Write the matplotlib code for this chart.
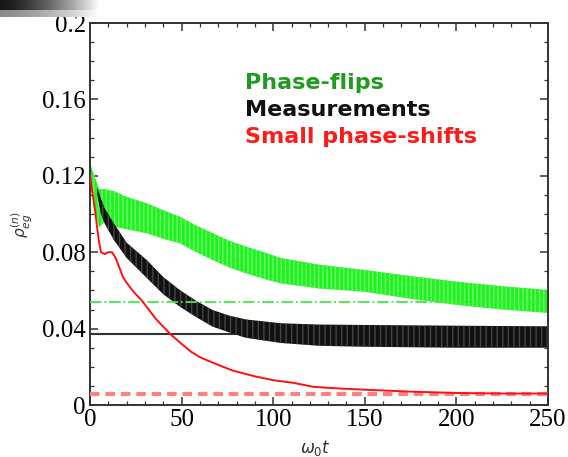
import numpy as np
import matplotlib.pyplot as plt
from matplotlib.ticker import MultipleLocator

# phase-flips band (upper / lower envelope)
t_green = [0, 2, 5, 8, 13, 20, 31, 40, 49, 58, 67, 76, 85, 95, 104, 125, 150, 175, 200, 225, 250]
green_hi = [0.127, 0.121, 0.113, 0.113, 0.112, 0.109, 0.1056, 0.102, 0.0986, 0.094, 0.090, 0.086,
            0.083, 0.080, 0.077, 0.0735, 0.0707, 0.0675, 0.0646, 0.0622, 0.0602]
green_lo = [0.120, 0.104, 0.093, 0.096, 0.0934, 0.092, 0.0899, 0.087, 0.0847, 0.080, 0.0759, 0.072,
            0.069, 0.066, 0.0637, 0.061, 0.0593, 0.0556, 0.0524, 0.050, 0.0482]

# measurements band
t_black = [4, 6, 8, 13, 20, 31, 40, 49, 58, 67, 76, 85, 104, 125, 150, 200, 250]
black_hi = [0.114, 0.108, 0.103, 0.0951, 0.085, 0.0759, 0.067, 0.0602, 0.0545, 0.0497, 0.0468,
            0.0448, 0.0428, 0.0421, 0.0419, 0.0415, 0.0412]
black_lo = [0.110, 0.100, 0.095, 0.0864, 0.077, 0.0665, 0.058, 0.0515, 0.046, 0.041, 0.038,
            0.0352, 0.0325, 0.031, 0.0305, 0.030, 0.030]

# small phase-shifts curve
t_red = [0, 1, 2, 3, 4, 5, 6, 8, 10, 12, 14, 16, 18, 20, 24, 28, 32, 36, 40, 44, 50, 55, 60, 70,
         78, 90, 100, 111, 122, 135, 150, 175, 200, 225, 250]
red = [0.120, 0.113, 0.107, 0.100, 0.092, 0.085, 0.080, 0.079, 0.080, 0.080, 0.077, 0.072, 0.067,
       0.064, 0.059, 0.055, 0.050, 0.045, 0.041, 0.037, 0.032, 0.028, 0.025, 0.021, 0.018, 0.015,
       0.013, 0.0116, 0.0095, 0.0087, 0.008, 0.007, 0.0063, 0.006, 0.006]

# asymptotic levels
lvl_green = 0.054
lvl_black = 0.037
lvl_red = 0.006

labels = ["Phase-flips", "Measurements", "Small phase-shifts"]
label_colors = ["#1f9b1f", "#111111", "#ff1a1a"]

fig = plt.figure(figsize=(5.68, 4.57), dpi=100)
ax = fig.add_axes([90/568, 1-405/457, 458/568, 382/457])

plt.rcParams["hatch.linewidth"] = 1.0
ax.axhline(lvl_black, color="#333333", lw=1.5, zorder=1)
ax.fill_between(t_green, green_lo, green_hi, facecolor="#22f022", edgecolor="#66f866",
                hatch="||||", lw=0, zorder=2)
ax.fill_between(t_black, black_lo, black_hi, facecolor="#111111", edgecolor="#444444",
                hatch="|||", lw=0, zorder=2)
ax.axhline(lvl_green, color="#44e844", lw=1.3, ls="-.", zorder=3)
ax.axhline(lvl_red, color="#ff8080", lw=3, ls=(0, (2.3, 1.4)), zorder=3)
ax.plot(t_red, red, color="#ff1010", lw=1.4, zorder=4)

ax.set_xlim(0, 250)
ax.set_ylim(0, 0.2)
ax.xaxis.set_minor_locator(MultipleLocator(10))
ax.yaxis.set_minor_locator(MultipleLocator(0.01))
ax.set_yticks([0, 0.04, 0.08, 0.12, 0.16, 0.2])
ax.set_yticklabels(["0", "0.04", "0.08", "0.12", "0.16", "0.2"])
ax.set_xticks([0, 50, 100, 150, 200, 250])
ax.set_xticklabels(["0", "50", "100", "150", "200", "250"])
ax.tick_params(which="both", direction="in", top=True, right=True, color="#333333")
ax.tick_params(which="major", length=6, width=1.1, labelsize=18, pad=3)
ax.tick_params(which="minor", length=3, width=0.9)
for lab in ax.get_xticklabels() + ax.get_yticklabels():
    lab.set_family("Liberation Serif")
for sp in ax.spines.values():
    sp.set_color("#333333")
    sp.set_linewidth(1.4)

for i, (txt, c) in enumerate(zip(labels, label_colors)):
    ax.text(0.338, 0.843 - i*0.071, txt, transform=ax.transAxes, color=c, fontsize=16,
            fontweight="bold", family="DejaVu Sans", va="center", ha="left")

fig.text(22/568, 1-225/457, r"$\rho_{eg}^{(n)}$", rotation=90, fontsize=11,
         ha="center", va="center", color="#333333")
fig.text(315/568, 1-448/457, r"$\omega_0 t$", fontsize=12, ha="center", va="center",
         color="#333333")

# grey strip at top-left corner of the screenshot
gax = fig.add_axes([0, 1-17/457, 100/568, 17/457])
grad = np.linspace(0, 1, 100)[None, :] ** 1.5 * np.ones((17, 1))
grad[10:, :] = 0.5 + 0.5*grad[10:, :]
gax.imshow(grad, cmap="gray", vmin=-0.1, vmax=1, aspect="auto")
gax.axis("off")

fig.savefig("out.png", dpi=100)
